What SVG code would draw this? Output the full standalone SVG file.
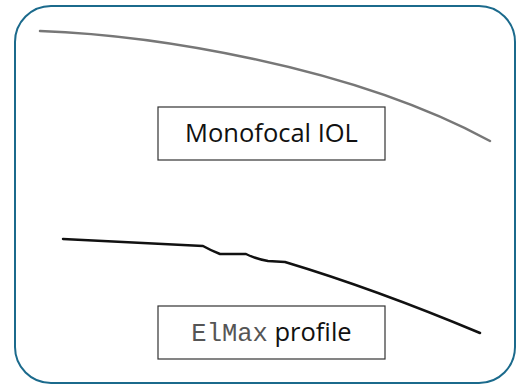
<svg xmlns="http://www.w3.org/2000/svg" width="521" height="385" viewBox="0 0 521 385">
<style>
.frame{fill:#fff;stroke:#1b6a8c;stroke-width:2}
.box{fill:#fff;stroke:#333;stroke-width:1.2}
.lbl{font-family:"Open Sans",sans-serif;font-size:25.5px;fill:#111}
.mono{font-family:"Liberation Mono",monospace;fill:#555}
</style>
<rect width="521" height="385" fill="#fff"/>
<rect class="frame" x="15" y="6" width="500" height="377" rx="36"/>
<g id="curves" fill="none" stroke-linecap="round" stroke-linejoin="round">
<path d="M40,31 C150,35 350,65 490,141" stroke="#777" stroke-width="2.5"/>
<path d="M63,239 L203,246 Q210,250 220,254 L246,254 Q256,259 268,261 L285,262 Q375,289 480,333" stroke="#111" stroke-width="2.5"/>
</g>
<g id="monofocal">
<rect class="box" x="158" y="107" width="227" height="53"/>
<text class="lbl" x="271.5" y="141.5" text-anchor="middle">Monofocal IOL</text>
</g>
<g id="elmax">
<rect class="box" x="158" y="306" width="227" height="53"/>
<text class="lbl" x="271.5" y="340.5" text-anchor="middle"><tspan class="mono">ElMax</tspan> profile</text>
</g>
</svg>
